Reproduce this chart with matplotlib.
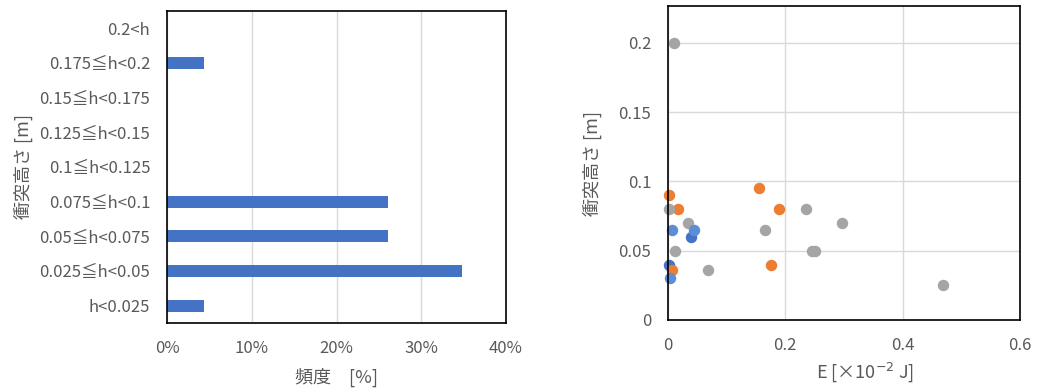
import numpy as np
import matplotlib
matplotlib.use('Agg')
import matplotlib.pyplot as plt

plt.rcParams['font.family'] = ['Noto Sans CJK JP', 'DejaVu Sans']

# left: frequency of collision heights
categories = ['h<0.025', '0.025≦h<0.05', '0.05≦h<0.075', '0.075≦h<0.1',
              '0.1≦h<0.125', '0.125≦h<0.15', '0.15≦h<0.175', '0.175≦h<0.2', '0.2<h']
freq = [4.35, 34.78, 26.09, 26.09, 0, 0, 0, 4.35, 0]

# right: energy vs collision height, by series
blue_E = [0.040, 0.001]
blue_h = [0.060, 0.040]
orange_E = [0.001, 0.0165, 0.156, 0.189, 0.175, 0.007]
orange_h = [0.090, 0.080, 0.095, 0.080, 0.040, 0.036]
gray_E = [0.0097, 0.001, 0.035, 0.012, 0.068, 0.165, 0.235, 0.296, 0.246, 0.251, 0.468]
gray_h = [0.200, 0.080, 0.070, 0.050, 0.036, 0.065, 0.080, 0.070, 0.050, 0.050, 0.025]
lblue_E = [0.007, 0.045, 0.0034]
lblue_h = [0.065, 0.065, 0.030]

txt = '#595959'
grid = '#D9D9D9'

fig = plt.figure(figsize=(10.38, 3.9), dpi=100)

ax1 = fig.add_axes([0.1609, 0.1718, 0.3266, 0.8])
y = np.arange(len(categories))
ax1.barh(y, freq, height=0.35, color='#4472C4', zorder=3)
ax1.set_xlim(0, 40)
ax1.set_ylim(-0.5, 8.5)
ax1.set_yticks(y)
ax1.set_yticklabels(categories)
ax1.set_xticks([0, 10, 20, 30, 40])
ax1.set_xticklabels(['0%', '10%', '20%', '30%', '40%'])
ax1.xaxis.grid(True, color=grid, linewidth=1.0, zorder=0)
ax1.set_xlabel('頻度\u3000[%]', color=txt, fontsize=13, labelpad=8)
ax1.set_ylabel('衝突高さ [m]', color=txt, fontsize=13, labelpad=5)

ax2 = fig.add_axes([0.6435, 0.1795, 0.3391, 0.805])
ms = 68
ax2.scatter(blue_E, blue_h, s=ms, color='#4472C4', zorder=3, linewidths=0, clip_on=False)
ax2.scatter(orange_E, orange_h, s=ms, color='#ED7D31', zorder=3, linewidths=0, clip_on=False)
ax2.scatter(gray_E, gray_h, s=ms, color='#A5A5A5', zorder=3, linewidths=0, clip_on=False)
ax2.scatter(lblue_E, lblue_h, s=ms, color='#5B8ED6', zorder=3, linewidths=0, clip_on=False)
ax2.set_xlim(0, 0.6)
ax2.set_ylim(0, 0.2265)
ax2.set_xticks([0, 0.2, 0.4, 0.6])
ax2.set_xticklabels(['0', '0.2', '0.4', '0.6'])
ax2.set_yticks([0, 0.05, 0.1, 0.15, 0.2])
ax2.set_yticklabels(['0', '0.05', '0.1', '0.15', '0.2'])
ax2.grid(True, color=grid, linewidth=1.0, zorder=0)
ax2.set_xlabel('E [×10$^{-2}$ J]', color=txt, fontsize=13, labelpad=8)
ax2.xaxis.set_label_coords(0.56, -0.13)
ax2.set_ylabel('衝突高さ [m]', color=txt, fontsize=13, labelpad=12)

for ax in (ax1, ax2):
    ax.set_axisbelow(True)
    ax.tick_params(length=0, labelsize=12, colors=txt, pad=12)
    for sp in ax.spines.values():
        sp.set_color('black')
        sp.set_linewidth(1.2)
        sp.set_zorder(4)

fig.savefig('out.png', dpi=100)
